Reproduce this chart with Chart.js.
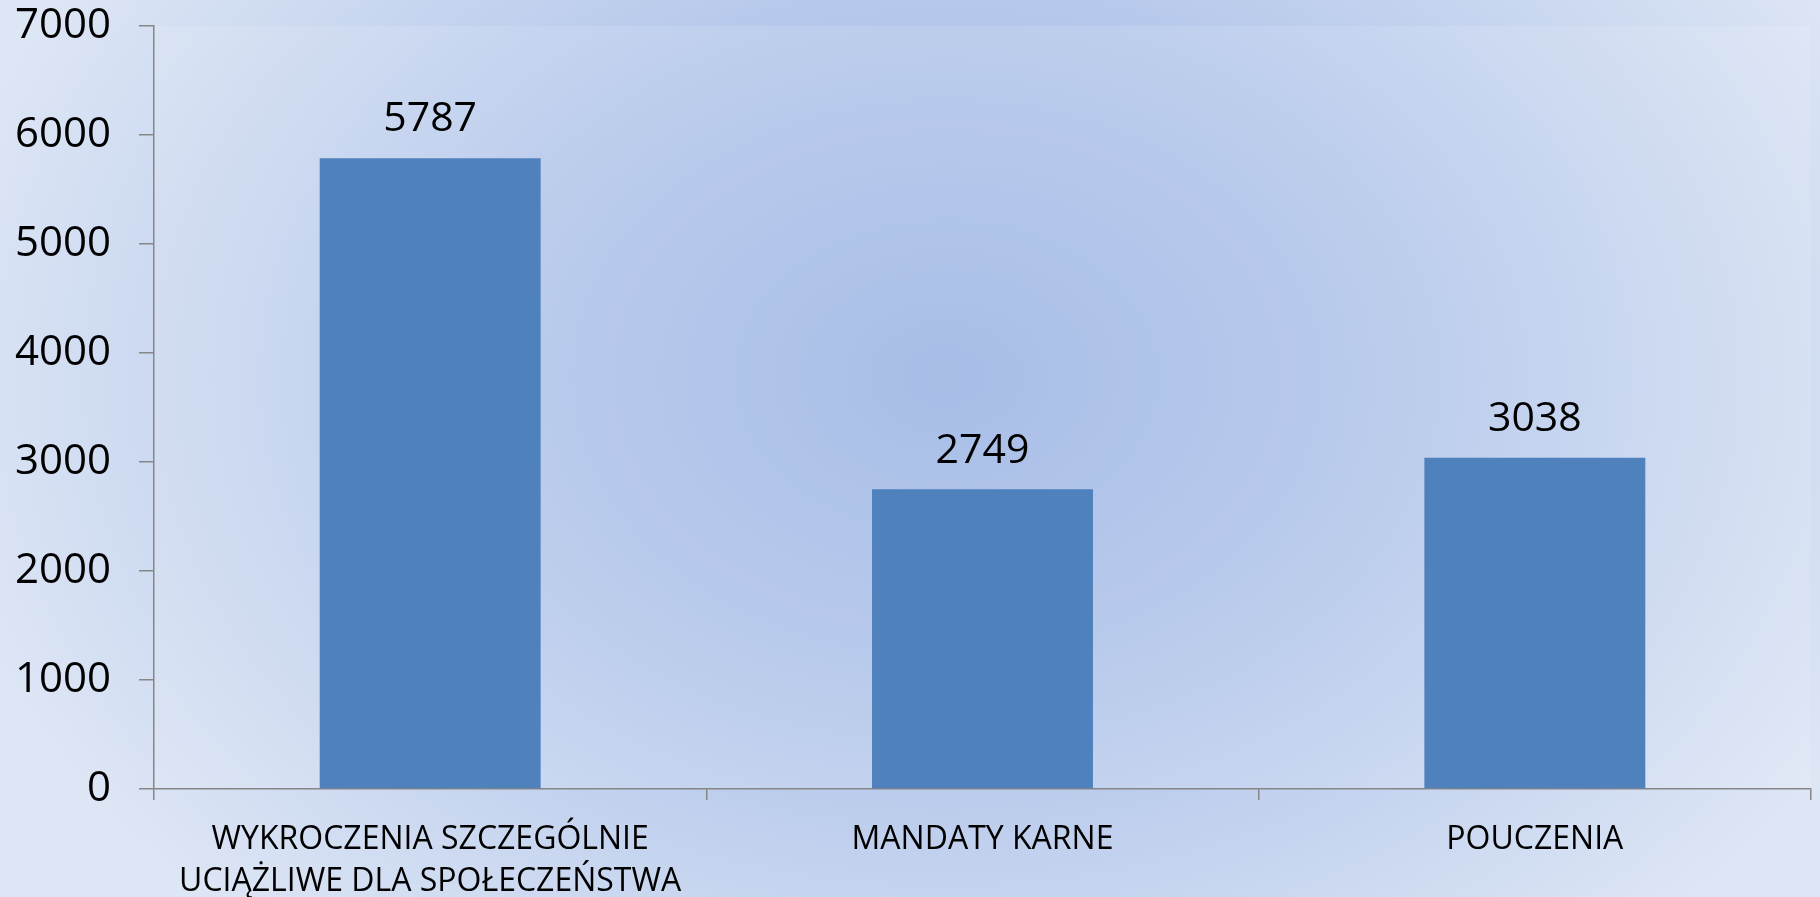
<!DOCTYPE html>
<html>
<head>
<meta charset="utf-8">
<script src="https://cdn.jsdelivr.net/npm/chart.js@4"></script>
<style>
  html, body { margin: 0; padding: 0; background: #cfdbf0; }
  #wrap { width: 1820px; height: 897px; }
</style>
</head>
<body>
<div id="wrap"><canvas id="myChart" width="1820" height="897"></canvas></div>
<script>
const categories = [
    ['WYKROCZENIA SZCZEGÓLNIE', 'UCIĄŻLIWE DLA SPOŁECZEŃSTWA'],
    'MANDATY KARNE',
    'POUCZENIA'
];
const values = [5787, 2749, 3038];
const yTicks = [0, 1000, 2000, 3000, 4000, 5000, 6000, 7000];

const FONT = "'Open Sans', 'DejaVu Sans', sans-serif";

// background: soft radial blue glow like the slide
const backgroundPlugin = {
    id: 'bg',
    beforeDraw(chart) {
        const ctx = chart.ctx;
        const w = chart.width, h = chart.height;
        ctx.save();
        ctx.translate(w * 0.52, h * 0.42);
        ctx.scale(1.35, 1);
        const g = ctx.createRadialGradient(0, 0, 0, 0, 0, 760);
        g.addColorStop(0, '#9cb5e4');
        g.addColorStop(0.45, '#b3c6ea');
        g.addColorStop(1, '#dde6f5');
        ctx.fillStyle = g;
        ctx.fillRect(-w, -h, w * 2, h * 2);
        ctx.restore();
        // slight lighter plot area
        const a = chart.chartArea;
        ctx.save();
        ctx.fillStyle = 'rgba(255,255,255,0.12)';
        ctx.fillRect(a.left, a.top, a.right - a.left, a.bottom - a.top);
        ctx.restore();
    }
};

// value labels above each bar
const valueLabels = {
    id: 'valueLabels',
    afterDatasetsDraw(chart) {
        const ctx = chart.ctx;
        const meta = chart.getDatasetMeta(0);
        ctx.save();
        ctx.font = '41px ' + FONT;
        ctx.fillStyle = '#000';
        ctx.textAlign = 'center';
        ctx.textBaseline = 'bottom';
        meta.data.forEach((bar, i) => {
            ctx.fillText(values[i], bar.x, bar.y - 18);
        });
        ctx.restore();
    }
};

new Chart(document.getElementById('myChart'), {
    type: 'bar',
    data: {
        labels: categories,
        datasets: [{
            data: values,
            backgroundColor: '#4f81bd',
            borderWidth: 0,
            categoryPercentage: 0.4,
            barPercentage: 1.0
        }]
    },
    options: {
        responsive: false,
        animation: false,
        layout: { padding: { top: 0, right: 9, left: 0, bottom: 0 } },
        plugins: {
            legend: { display: false },
            tooltip: { enabled: false }
        },
        scales: {
            x: {
                grid: {
                    offset: true,
                    drawOnChartArea: false,
                    color: '#868686',
                    lineWidth: 1.5,
                    tickLength: 11
                },
                border: { color: '#868686', width: 1.5 },
                ticks: {
                    color: '#000',
                    padding: 19,
                    maxRotation: 0,
                    autoSkip: false,
                    font: { family: FONT, size: 32, lineHeight: 1.3 }
                },
                afterFit(scale) { scale.height = 108; }
            },
            y: {
                min: 0,
                max: 7000,
                afterBuildTicks(scale) {
                    scale.ticks = yTicks.map(v => ({ value: v }));
                },
                grid: {
                    drawOnChartArea: false,
                    color: '#868686',
                    lineWidth: 1.5,
                    tickLength: 15
                },
                border: { color: '#868686', width: 1.5 },
                ticks: {
                    color: '#000',
                    padding: 28,
                    font: { family: FONT, size: 42 },
                    callback: (v) => String(v)
                },
                afterFit(scale) {
                    scale.width = 154;
                    scale.paddingTop = 26;
                    scale.paddingBottom = 0;
                }
            }
        }
    },
    plugins: [backgroundPlugin, valueLabels]
});
</script>
</body>
</html>
